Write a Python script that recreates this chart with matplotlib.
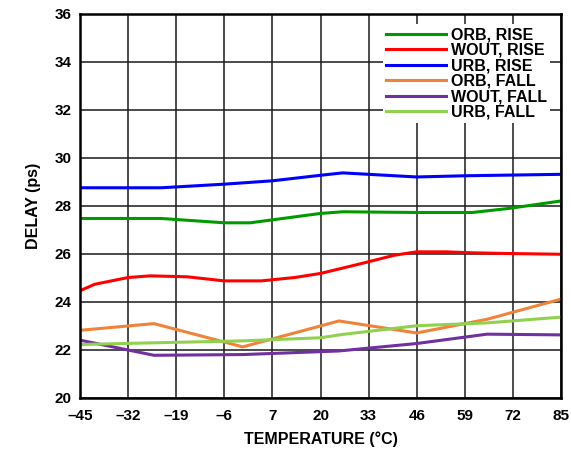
import numpy as np
import matplotlib
matplotlib.use('Agg')
import matplotlib.pyplot as plt

plt.rcParams['font.family'] = ['Liberation Sans', 'DejaVu Sans']
plt.rcParams['font.weight'] = 'bold'

# temperature samples (°C)
t_orb_rise = [-45, -23, -6, 1, 20, 26, 46, 61, 71, 85]
orb_rise = [27.46, 27.46, 27.28, 27.28, 27.67, 27.74, 27.71, 27.71, 27.88, 28.19]

t_wout_rise = [-45, -41, -32, -26, -16, -6, 4, 13, 20, 31, 40, 46, 54, 61, 71, 85]
wout_rise = [24.45, 24.72, 25.00, 25.07, 25.03, 24.86, 24.86, 25.00, 25.17, 25.58, 25.93, 26.07, 26.07, 26.03, 26.00, 25.97]

t_urb_rise = [-45, -23, -6, 7, 20, 26, 33, 46, 59, 85]
urb_rise = [28.74, 28.74, 28.89, 29.03, 29.26, 29.36, 29.30, 29.19, 29.24, 29.30]

t_fall = [-45, -25, -1, 25, 46, 65, 85]
orb_fall = [22.80, 23.08, 22.11, 23.19, 22.69, 23.26, 24.10]
wout_fall = [22.39, 21.76, 21.79, 21.94, 22.25, 22.64, 22.61]

t_urb_fall = [-45, -25, -1, 20, 26, 46, 65, 85]
urb_fall = [22.21, 22.28, 22.36, 22.49, 22.63, 22.99, 23.11, 23.35]

x_ticks = np.arange(-45, 86, 13)
y_ticks = np.arange(20, 37, 2)

fig = plt.figure(figsize=(5.71, 4.54), dpi=100)
ax = fig.add_axes([0.1401, 0.1244, 0.8424, 0.8458])

lw = 2.2
ax.plot(t_orb_rise, orb_rise, color='#009a00', lw=lw, label='ORB, RISE')
ax.plot(t_wout_rise, wout_rise, color='#ff0000', lw=lw, label='WOUT, RISE')
ax.plot(t_urb_rise, urb_rise, color='#0000ff', lw=lw, label='URB, RISE')
ax.plot(t_fall, orb_fall, color='#f0823a', lw=lw, label='ORB, FALL')
ax.plot(t_fall, wout_fall, color='#7030a0', lw=lw, label='WOUT, FALL')
ax.plot(t_urb_fall, urb_fall, color='#92d050', lw=lw, label='URB, FALL')

ax.set_xlim(-45, 85)
ax.set_ylim(20, 36)
ax.set_xticks(x_ticks)
ax.set_yticks(y_ticks)
ax.set_xticklabels([f'\u2013{-v}' if v < 0 else str(v) for v in x_ticks])
ax.tick_params(length=0, labelsize=11)
ax.tick_params(axis='x', pad=8)
ax.tick_params(axis='y', pad=6)
ax.grid(True, color='#1a1a1a', lw=1.1)
ax.set_axisbelow(True)
for s in ax.spines.values():
    s.set_linewidth(1.8)

ax.set_xlabel('TEMPERATURE (°C)', fontsize=11.5, fontweight='bold', labelpad=6)
ax.set_ylabel('DELAY (ps)', fontsize=11.5, fontweight='bold', labelpad=10)

leg = ax.legend(loc='upper left', bbox_to_anchor=(0.630, 0.972), frameon=True,
                fontsize=11.5, handlelength=3.75, handletextpad=0.3,
                labelspacing=0.03, borderpad=0.2, borderaxespad=0.0)
leg.get_frame().set_facecolor('white')
leg.get_frame().set_edgecolor('none')
leg.get_frame().set_alpha(1.0)
leg.get_frame().set_boxstyle('square', pad=0)

fig.savefig('out.png', dpi=100)
